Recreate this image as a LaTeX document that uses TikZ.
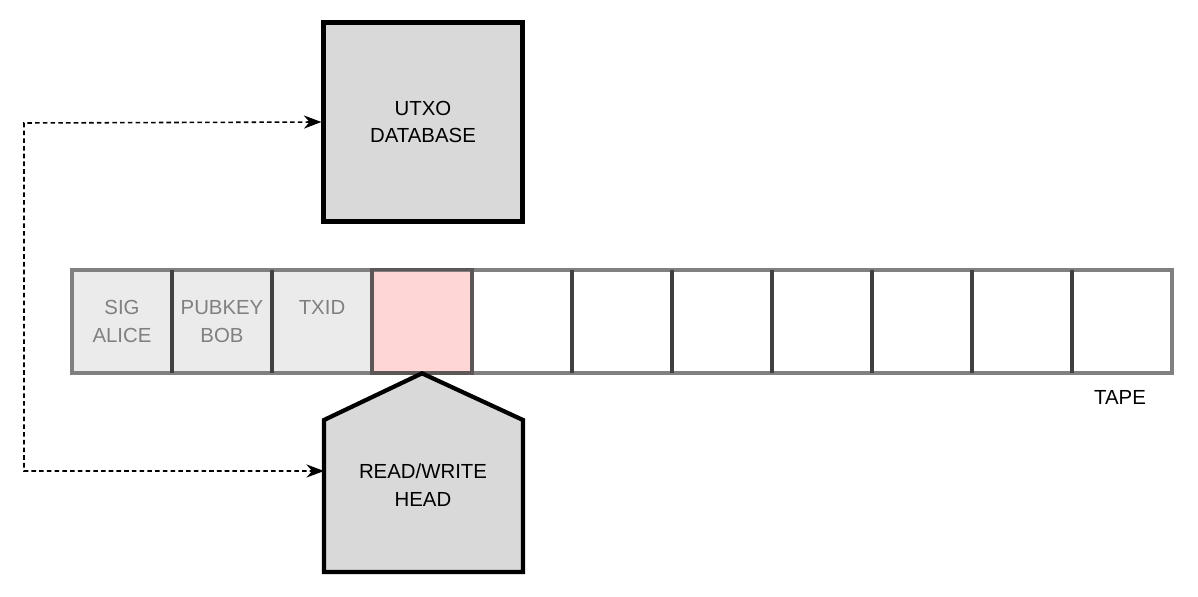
\documentclass[tikz,border=0pt]{standalone}
\usepackage{fontspec}
\setmainfont{Liberation Sans}
\usetikzlibrary{arrows.meta}
\definecolor{boxgray}{HTML}{D9D9D9}
\definecolor{cellgray}{HTML}{EBEBEB}
\definecolor{cellpink}{HTML}{FFD6D6}
\definecolor{tapeedge}{HTML}{808080}
\definecolor{tapediv}{HTML}{404040}
\definecolor{celltext}{HTML}{808080}
\tikzset{
  dbbox/.style={draw=black, fill=boxgray, line width=2.4pt, minimum width=3.98cm,
    minimum height=3.98cm, align=center, inner sep=0pt},
  cell/.style={minimum width=2cm, minimum height=2.06cm, inner sep=0pt, align=center,
    text=celltext},
  headbox/.style={draw=black, fill=boxgray, line width=2.4pt, line join=miter},
  link/.style={dash pattern=on 2.6pt off 1.8pt, line width=0.9pt,
    {Stealth[length=10pt,width=7.5pt]}-{Stealth[length=10pt,width=7.5pt]}}
}
\begin{document}
\begin{tikzpicture}[x=0.02cm,y=-0.02cm,font=\fontsize{11.6}{15.8}\selectfont]
\useasboundingbox (0,0) rectangle (1198,597);
% the database
\node[dbbox] (utxo) at (423,122) {UTXO\\DATABASE};
% the tape
\foreach \i in {1,...,11}
  \node[cell, fill=white] (c\i) at ({22+100*\i},321.5) {};
\node[cell, fill=cellgray] (c1) at (122,321.5) {SIG\\ALICE};
\node[cell, fill=cellgray] (c2) at (222,321.5) {PUBKEY\\BOB};
\node[cell, fill=cellgray] (c3) at (322,321.5) {TXID\\\mbox{}};
\node[cell, fill=cellpink] (c4) at (422,321.5) {};
\draw[tapeedge, line width=2.3pt] (c1.north west) rectangle (c11.south east);
\foreach \i in {2,...,11}
  \draw[tapediv, line width=2.1pt] (c\i.north west) -- (c\i.south west);
\draw[tapediv!85!cellpink, line width=2.1pt] (c4.north west) rectangle (c4.south east);
\node (tapelabel) at (1120,397) {TAPE};
% the head
\draw[headbox] (c4.south) -- (523,420) -- (523,572) -- (324,572) -- (324,420) -- cycle;
\node[align=center] (head) at (423,485) {READ/WRITE\\HEAD};
\coordinate (headin) at (324,471);
\coordinate (bend) at (24,123);
\draw[link] (utxo.west) -- (bend) |- (headin);
\end{tikzpicture}
\end{document}
